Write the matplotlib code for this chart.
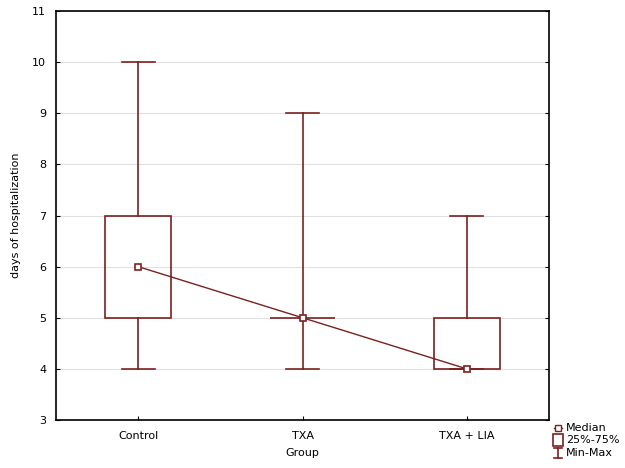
import matplotlib.pyplot as plt
from matplotlib.patches import Rectangle

groups = ['Control', 'TXA', 'TXA + LIA']
mins = [4, 4, 4]
q1 = [5, 5, 4]
medians = [6, 5, 4]
q3 = [7, 5, 5]
maxs = [10, 9, 7]

col = '#7b2020'
plt.rcParams['font.family'] = 'DejaVu Sans'
plt.rcParams['font.size'] = 8

fig = plt.figure(figsize=(6.25, 4.68), dpi=100)
ax = fig.add_axes([56 / 625, 48 / 468, 493 / 625, 409 / 468])

pos = [0.5, 1.5, 2.5]
bw = 0.4
cw = 0.2
for x, lo, a, m, b, hi in zip(pos, mins, q1, medians, q3, maxs):
    ax.add_patch(Rectangle((x - bw / 2, a), bw, b - a, fill=False, ec=col, lw=1.2, zorder=3))
    ax.plot([x, x], [lo, a], color=col, lw=1.2, zorder=3)
    ax.plot([x, x], [b, hi], color=col, lw=1.2, zorder=3)
    ax.plot([x - cw / 2, x + cw / 2], [lo, lo], color=col, lw=1.2, zorder=3)
    ax.plot([x - cw / 2, x + cw / 2], [hi, hi], color=col, lw=1.2, zorder=3)

ax.plot(pos, medians, color=col, lw=1, marker='s', ms=5, mfc='white', mec=col, mew=1.2, zorder=4)

ax.set_xlim(0, 3)
ax.set_ylim(3, 11)
ax.set_yticks(range(3, 12))
ax.set_xticks(pos)
ax.set_xticklabels(groups)
ax.grid(axis='y', color='#e0e0e0', lw=0.8, zorder=0)
ax.tick_params(direction='in', length=3, right=True, top=False, colors='black', labelsize=8)
ax.tick_params(axis='y', pad=7)
ax.tick_params(axis='x', pad=8)
for s in ax.spines.values():
    s.set_linewidth(1.2)
ax.set_xlabel('Group', fontsize=8, labelpad=5)
ax.set_ylabel('days of hospitalization', fontsize=8, labelpad=8)

# legend drawn by hand below the right corner
lg = fig.add_axes([550 / 625, 0, 75 / 625, 48 / 468])
lg.set_xlim(0, 75)
lg.set_ylim(48, 0)
lg.axis('off')
lg.plot([4, 12], [8, 8], color=col, lw=1)
lg.plot([8], [8], marker='s', ms=4, mfc='white', mec=col, mew=1)
lg.text(16, 8, 'Median', va='center', fontsize=8)
lg.add_patch(Rectangle((3, 14), 10, 12, fill=False, ec=col, lw=1.2))
lg.text(16, 20, '25%-75%', va='center', fontsize=8)
lg.plot([8, 8], [28, 38], color=col, lw=1.2)
lg.plot([4, 12], [28, 28], color=col, lw=1.2)
lg.plot([4, 12], [38, 38], color=col, lw=1.2)
lg.text(16, 33, 'Min-Max', va='center', fontsize=8)

fig.savefig('out.png', dpi=100)
